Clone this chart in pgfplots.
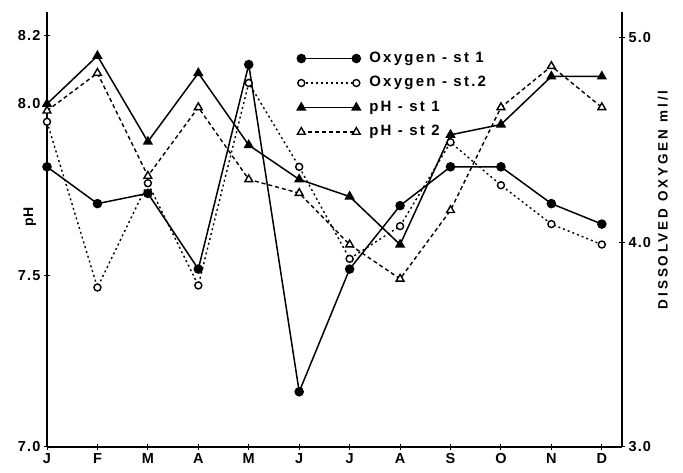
\documentclass[border=0pt]{standalone}
\usepackage{fontspec}
\setmainfont{Liberation Sans}
\usepackage{pgfplots}
\pgfplotsset{compat=1.18}
\begin{document}
\begin{tikzpicture}[x=1pt,y=1pt]
\useasboundingbox (0,0) rectangle (683,473);
\pgfplotsset{
  every axis/.append style={
    scale only axis, width=575pt, height=435pt,
    at={(47pt,26pt)}, anchor=south west,
    xmin=0, xmax=11.4,
    clip=false,
    tick align=center, major tick length=6pt,
    every tick/.style={black, line width=1pt},
    axis line style={line width=1.8pt},
    tick label style={font=\fontsize{14.5}{16}\selectfont\bfseries\addfontfeature{LetterSpace=8}},
  },
}
\begin{axis}[
  axis x line*=bottom, axis y line*=left,
  ymin=7, ymax=8.268,
  xtick={0,...,11}, xticklabels={J,F,M,A,M,J,J,A,S,O,N,D},
  ytick={7,7.5,8,8.2}, yticklabels={7.0,7.5,8.0,8.2},
  ylabel={pH},
  ylabel style={at={(axis description cs:-0.03,0.529)}, anchor=center, font=\fontsize{14}{16}\selectfont\bfseries},
]
\addplot[black, line width=1.5pt, mark=triangle*, mark size=4.5pt, mark options={solid}]
  coordinates {(0,8.00) (1,8.14) (2,7.89) (3,8.09) (4,7.88) (5,7.78) (6,7.73) (7,7.59) (8,7.91) (9,7.94) (10,8.08) (11,8.08)};
\addplot[black, line width=1.4pt, dash pattern=on 4pt off 3pt, mark=triangle*, mark size=4.5pt, mark options={solid, fill=white}]
  coordinates {(0,7.98) (1,8.09) (2,7.79) (3,7.99) (4,7.78) (5,7.74) (6,7.59) (7,7.49) (8,7.69) (9,7.99) (10,8.11) (11,7.99)};
\end{axis}
\begin{axis}[
  axis x line=none, axis y line*=right,
  ymin=3, ymax=5.127,
  ytick={3,4,5}, yticklabels={3.0,4.0,5.0},
  legend style={at={(axis description cs:0.435,0.913)}, anchor=north west, draw=none, fill=none,
    inner sep=0pt, row sep=7.5pt, column sep=8pt,
    nodes={text height=11pt, text depth=4pt, inner sep=1pt},
    font=\fontsize{15}{17}\selectfont\bfseries\addfontfeature{LetterSpace=15}},
  legend cell align=left,
  legend image code/.code={\draw[#1] plot coordinates {(0pt,0pt) (55pt,0pt)};},
]
\addplot[black, line width=1.5pt, mark=*, mark size=4pt, mark options={solid}]
  coordinates {(0,4.37) (1,4.19) (2,4.24) (3,3.87) (4,4.87) (5,3.27) (6,3.87) (7,4.18) (8,4.37) (9,4.37) (10,4.19) (11,4.09)};
\addlegendentry{Oxygen - st 1}
\addplot[black, line width=1.4pt, dash pattern=on 2pt off 3pt, mark=*, mark size=3.5pt, mark options={solid, fill=white}]
  coordinates {(0,4.59) (1,3.78) (2,4.29) (3,3.79) (4,4.78) (5,4.37) (6,3.92) (7,4.08) (8,4.49) (9,4.28) (10,4.09) (11,3.99)};
\addlegendentry{Oxygen - st.2}
\addlegendimage{black, line width=1.5pt, mark=triangle*, mark size=4.5pt, mark options={solid}}
\addlegendentry{pH - st 1}
\addlegendimage{black, line width=1.4pt, dash pattern=on 4pt off 3pt, mark=triangle*, mark size=4.5pt, mark options={solid, fill=white}}
\addlegendentry{pH - st 2}
\node[rotate=90, anchor=center, font=\fontsize{13.5}{15}\selectfont\bfseries\addfontfeature{LetterSpace=22}] at (axis description cs:1.071,0.568) {DISSOLVED OXYGEN ml/l};
\end{axis}
\end{tikzpicture}
\end{document}
